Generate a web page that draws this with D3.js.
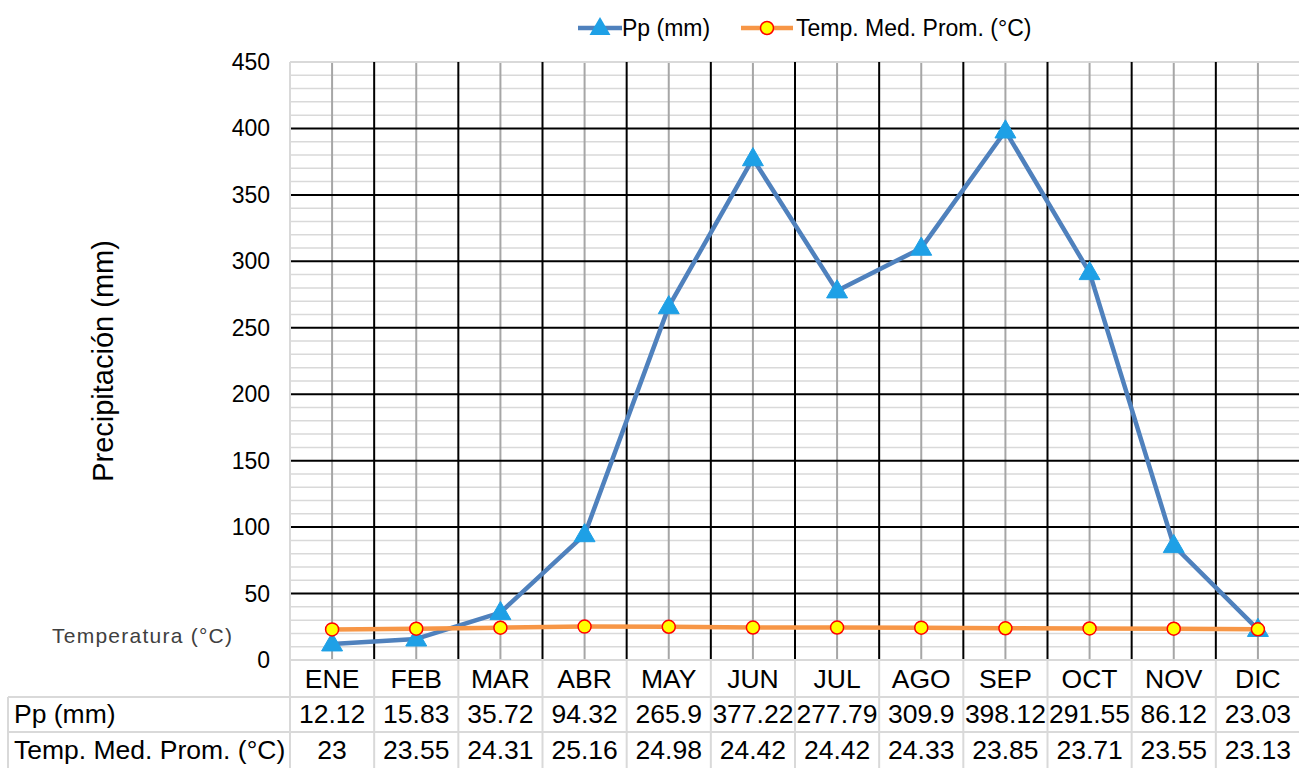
<!DOCTYPE html>
<html>
<head>
<meta charset="utf-8">
<script src="https://cdn.jsdelivr.net/npm/d3@7"></script>
<style>
body { margin: 0; background: #fff; }
text { font-family: Arial, "Liberation Sans", sans-serif; }
</style>
</head>
<body>
<div id="chart"></div>
<script>
var width = 1299,
    height = 768;

var months = ["ENE","FEB","MAR","ABR","MAY","JUN","JUL","AGO","SEP","OCT","NOV","DIC"];
var ppLabels = ["12.12","15.83","35.72","94.32","265.9","377.22","277.79","309.9","398.12","291.55","86.12","23.03"];
var tempLabels = ["23","23.55","24.31","25.16","24.98","24.42","24.42","24.33","23.85","23.71","23.55","23.13"];
var pp = ppLabels.map(Number);
var temp = tempLabels.map(Number);
var yTicks = [0,50,100,150,200,250,300,350,400,450];

var plotL = 290, plotR = 1300, plotT = 62, plotB = 660;
var rowH = [660, 697, 732, 768];

var svg = d3.select("#chart").append("svg")
    .attr("width", width)
    .attr("height", height)

var x = d3.scaleBand().domain(months).range([plotL, plotR]);
var y = d3.scaleLinear().domain([0, 450]).range([plotB, plotT]);

// minor gridlines
var minor = d3.range(10, 450, 10).filter(v => v % 50 != 0);
svg.append("g").selectAll("line").data(minor).enter().append("line")
  .attr("x1", plotL).attr("x2", plotR)
  .attr("y1", d => y(d)).attr("y2", d => y(d))
  .attr("stroke", "#d9d9d9").attr("stroke-width", 1.5)

// center vertical gray lines
svg.append("g").selectAll("line").data(months).enter().append("line")
  .attr("x1", d => x(d) + x.bandwidth()/2).attr("x2", d => x(d) + x.bandwidth()/2)
  .attr("y1", plotT).attr("y2", plotB)
  .attr("stroke", "#a6a6a6").attr("stroke-width", 2)

// major gridlines
svg.append("g").selectAll("line").data(yTicks.filter(v => v > 0 && v < 450)).enter().append("line")
  .attr("x1", plotL).attr("x2", plotR)
  .attr("y1", d => y(d)).attr("y2", d => y(d))
  .attr("stroke", "#000").attr("stroke-width", 2)

// top border
svg.append("line").attr("x1", plotL).attr("x2", plotR).attr("y1", plotT).attr("y2", plotT)
  .attr("stroke", "#d9d9d9").attr("stroke-width", 2)

// boundary vertical black lines
svg.append("g").selectAll("line").data(months.slice(1)).enter().append("line")
  .attr("x1", d => x(d)).attr("x2", d => x(d))
  .attr("y1", plotT).attr("y2", plotB)
  .attr("stroke", "#000").attr("stroke-width", 2)

svg.append("line").attr("x1", plotL).attr("x2", plotL).attr("y1", plotT).attr("y2", plotB)
  .attr("stroke", "#d9d9d9").attr("stroke-width", 2)

// y tick labels
svg.append("g").selectAll("text").data(yTicks).enter().append("text")
  .attr("x", 270).attr("y", d => y(d) + 8)
  .attr("text-anchor", "end")
  .attr("font-size", 23)
  .text(d => d)

svg.append("text")
  .attr("transform", "translate(113," + 361 + ") rotate(-90)")
  .attr("text-anchor", "middle")
  .attr("font-size", 29)
  .text("Precipitación (mm)")

svg.append("text")
  .attr("x", 142).attr("y", 643)
  .attr("text-anchor", "middle")
  .attr("font-size", 21)
  .attr("textLength", 180)
  .attr("fill", "#404040")
  .text("Temperatura (°C)")

// data table
var tbl = svg.append("g");
var gridC = "#d9d9d9";
tbl.append("line").attr("x1", plotL).attr("x2", plotR).attr("y1", rowH[0]).attr("y2", rowH[0]).attr("stroke", gridC).attr("stroke-width", 2);
tbl.append("line").attr("x1", 8).attr("x2", plotR).attr("y1", rowH[1]).attr("y2", rowH[1]).attr("stroke", gridC).attr("stroke-width", 2);
tbl.append("line").attr("x1", 8).attr("x2", plotR).attr("y1", rowH[2]).attr("y2", rowH[2]).attr("stroke", gridC).attr("stroke-width", 2);
tbl.append("line").attr("x1", 8).attr("x2", 8).attr("y1", rowH[1]).attr("y2", rowH[3]).attr("stroke", gridC).attr("stroke-width", 2);
tbl.append("line").attr("x1", plotL).attr("x2", plotL).attr("y1", rowH[0]).attr("y2", rowH[3]).attr("stroke", gridC).attr("stroke-width", 2);
tbl.selectAll(".vl").data(months.slice(1)).enter().append("line")
  .attr("x1", d => x(d)).attr("x2", d => x(d))
  .attr("y1", rowH[0]).attr("y2", rowH[3])
  .attr("stroke", gridC).attr("stroke-width", 2)

var fs = 26.5;
tbl.selectAll(".mt").data(months).enter().append("text")
  .attr("x", d => x(d) + x.bandwidth()/2).attr("y", 688)
  .attr("text-anchor", "middle").attr("font-size", fs)
  .text(d => d)
tbl.selectAll(".pt").data(ppLabels).enter().append("text")
  .attr("x", (d, i) => x(months[i]) + x.bandwidth()/2).attr("y", 723)
  .attr("text-anchor", "middle").attr("font-size", fs)
  .text(d => d)
tbl.selectAll(".tt").data(tempLabels).enter().append("text")
  .attr("x", (d, i) => x(months[i]) + x.bandwidth()/2).attr("y", 759)
  .attr("text-anchor", "middle").attr("font-size", fs)
  .text(d => d)
tbl.append("text").attr("x", 14).attr("y", 723).attr("font-size", fs).text("Pp (mm)")
tbl.append("text").attr("x", 14).attr("y", 759).attr("font-size", fs).text("Temp. Med. Prom. (°C)")

// series
var cx = d => x(d) + x.bandwidth()/2;
var line = d3.line().x((d, i) => cx(months[i])).y(d => y(d));
var blue = "#4f81bd", orange = "#f79646";
var tri = d3.symbol().type(d3.symbolTriangle).size(190);

svg.append("path").datum(pp).attr("d", line)
  .attr("fill", "none").attr("stroke", blue).attr("stroke-width", 4.5).attr("stroke-linejoin", "round")
svg.append("g").selectAll("path").data(pp).enter().append("path")
  .attr("d", tri)
  .attr("transform", (d, i) => "translate(" + cx(months[i]) + "," + (y(d) + 1) + ")")
  .attr("fill", "#1ea0e6").attr("stroke", "#1ea0e6").attr("stroke-width", 1)

svg.append("path").datum(temp).attr("d", line)
  .attr("fill", "none").attr("stroke", orange).attr("stroke-width", 4.5)
svg.append("g").selectAll("circle").data(temp).enter().append("circle")
  .attr("cx", (d, i) => cx(months[i])).attr("cy", d => y(d))
  .attr("r", 6.5).attr("fill", "#ffff00").attr("stroke", "#ff0000").attr("stroke-width", 1.5)

// legend
var lg = svg.append("g");
lg.append("line").attr("x1", 578).attr("x2", 622).attr("y1", 28).attr("y2", 28).attr("stroke", blue).attr("stroke-width", 4.5)
lg.append("path").attr("d", tri).attr("transform", "translate(600,29)").attr("fill", "#1ea0e6")
lg.append("text").attr("x", 622).attr("y", 36).attr("font-size", 23).text("Pp (mm)")
lg.append("line").attr("x1", 741).attr("x2", 793).attr("y1", 28).attr("y2", 28).attr("stroke", orange).attr("stroke-width", 4.5)
lg.append("circle").attr("cx", 767).attr("cy", 28).attr("r", 6.5).attr("fill", "#ffff00").attr("stroke", "#ff0000").attr("stroke-width", 1.5)
lg.append("text").attr("x", 796).attr("y", 36).attr("font-size", 23).text("Temp. Med. Prom. (°C)")
</script>
</body>
</html>
